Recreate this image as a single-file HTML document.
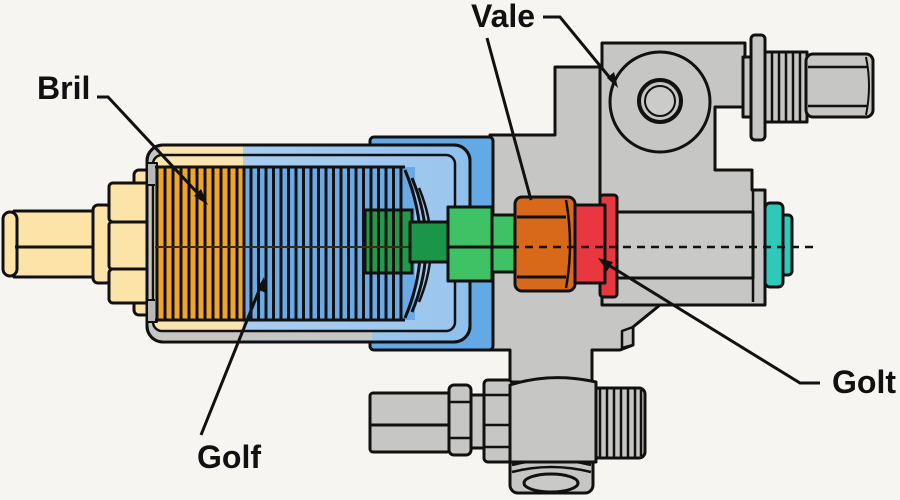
<!DOCTYPE html>
<html><head><meta charset="utf-8"><style>
html,body{margin:0;padding:0;background:#f6f5f1;}
svg{display:block;}
text{font-family:"Liberation Sans",Arial,sans-serif;font-weight:bold;fill:#111;}
</style></head><body>
<svg width="900" height="500" viewBox="0 0 900 500" xmlns="http://www.w3.org/2000/svg">
<defs>
<linearGradient id="hg" gradientUnits="userSpaceOnUse" x1="147" y1="0" x2="470" y2="0">
<stop offset="0" stop-color="#c6c6c4"/><stop offset="0.04" stop-color="#c6c6c4"/>
<stop offset="0.04" stop-color="#fbe3b2"/><stop offset="0.297" stop-color="#fbe3b2"/>
<stop offset="0.297" stop-color="#a9cdf0"/><stop offset="1" stop-color="#8fbfec"/>
</linearGradient>
<linearGradient id="ig" gradientUnits="userSpaceOnUse" x1="153" y1="0" x2="455" y2="0">
<stop offset="0" stop-color="#fbe3b2"/><stop offset="0.298" stop-color="#fbe3b2"/>
<stop offset="0.298" stop-color="#a9cdf0"/><stop offset="1" stop-color="#9cc6ee"/>
</linearGradient>
</defs>
<rect width="900" height="500" fill="#f6f5f1"/>

<g stroke="#111" stroke-width="3" stroke-linejoin="round">
<!-- gray main body -->
<path d="M490,135 L555,135 L555,67 L602,67 L602,43 L745,43 L745,107 L715,107 L715,170 L752,170 L752,190 L765,190 L765,305 L660,305 L633,327 L633,345 L620,350 L592,350 L592,382 L510,382 L510,350 L490,350 Z" fill="#c6c6c4"/>
<!-- bore -->
<rect x="617" y="212" width="136" height="66" fill="#c9c9c7"/>
<line x1="753" y1="190" x2="753" y2="302" stroke-width="2.5"/>
<line x1="600" y1="67" x2="600" y2="197" stroke-width="3"/>
<path d="M602,285 L602,305 L660,305" fill="none"/>
<path d="M622,331 L633,327 L633,345 L622,348 Z" fill="#c6c6c4" stroke-width="2.5"/>
<!-- circle -->
<circle cx="660" cy="102" r="50" fill="#c6c6c4"/>
<circle cx="660" cy="101" r="21" fill="#c6c6c4" stroke-width="4"/>
<circle cx="660" cy="101" r="15" fill="#cbcbc9" stroke-width="2"/>
<!-- top right fitting -->
<rect x="743" y="57" width="12" height="60" fill="#c6c6c4"/>
<rect x="765" y="52" width="42" height="70" fill="#c6c6c4"/>
<g stroke-width="2.5">
<line x1="772" y1="53" x2="772" y2="121"/><line x1="779" y1="53" x2="779" y2="121"/><line x1="786" y1="53" x2="786" y2="121"/><line x1="793" y1="53" x2="793" y2="121"/><line x1="800" y1="53" x2="800" y2="121"/>
</g>
<rect x="751" y="35" width="14" height="105" rx="4" fill="#c6c6c4"/>
<rect x="806" y="54" width="67" height="63" rx="7" fill="#c6c6c4"/>
<line x1="808" y1="67" x2="868" y2="67" stroke-width="2.5"/>
<line x1="808" y1="106" x2="868" y2="106" stroke-width="2.5"/>
<path d="M866,57 Q872,86 866,115" fill="none" stroke-width="2"/>
<!-- teal cap -->
<rect x="780" y="215" width="12" height="60" rx="4" fill="#2ec9b9"/>
<rect x="765" y="203" width="18" height="84" rx="5" fill="#2ec9b9"/>

<!-- lower fittings -->
<rect x="370" y="393" width="80" height="59" rx="3" fill="#c6c6c4"/>
<line x1="371" y1="425" x2="449" y2="425" stroke-width="3"/>
<rect x="470" y="395" width="16" height="53" fill="#c6c6c4"/>
<rect x="449" y="385" width="22" height="70" rx="5" fill="#c6c6c4"/>
<line x1="450" y1="402" x2="470" y2="402" stroke-width="2.5"/><line x1="450" y1="438" x2="470" y2="438" stroke-width="2.5"/>
<rect x="484" y="380" width="28" height="82" rx="4" fill="#c6c6c4"/>
<line x1="485" y1="395" x2="511" y2="395" stroke-width="2.5"/><line x1="485" y1="425" x2="511" y2="425" stroke-width="2.5"/><line x1="485" y1="447" x2="511" y2="447" stroke-width="2.5"/>
<rect x="593" y="388" width="52" height="70" rx="6" fill="#c6c6c4"/>
<g stroke-width="2.5">
<line x1="600" y1="389" x2="600" y2="457"/><line x1="607" y1="389" x2="607" y2="457"/><line x1="614" y1="389" x2="614" y2="457"/><line x1="621" y1="389" x2="621" y2="457"/><line x1="628" y1="389" x2="628" y2="457"/><line x1="635" y1="389" x2="635" y2="457"/><line x1="641" y1="390" x2="641" y2="456"/>
</g>
<rect x="510" y="455" width="83" height="38" rx="8" fill="#c6c6c4"/>
<path d="M512,465 Q551,455 591,465 M512,472 Q551,462 591,472" fill="none" stroke-width="2.5"/>
<ellipse cx="551" cy="483" rx="27" ry="9" fill="#c9c9c7"/>
<path d="M510,385 Q551,372 596,382 L596,462 L510,462 Z" fill="#c6c6c4"/>

<!-- blue block -->
<rect x="370" y="137" width="123" height="213" rx="4" fill="#62a9e6"/>
</g>

<!-- left shaft -->
<g stroke="#111" stroke-width="3" stroke-linejoin="round">
<rect x="14" y="211" width="84" height="66" fill="#fce4a8"/>
<rect x="3" y="212" width="14" height="64" rx="7" fill="#fce4a8"/>
<line x1="15" y1="247" x2="96" y2="247"/>
<rect x="93" y="205" width="18" height="78" rx="5" fill="#fce4a8"/>
<rect x="134" y="170" width="20" height="145" rx="5" fill="#fce4a8"/>
<rect x="109" y="183" width="46" height="39" rx="4" fill="#fce4a8"/>
<rect x="109" y="222" width="46" height="47" rx="3" fill="#fce4a8"/>
<rect x="109" y="269" width="46" height="34" rx="4" fill="#fce4a8"/>

<!-- housing -->
<rect x="147" y="145" width="323" height="197" rx="16" fill="url(#hg)"/>
<rect x="151" y="332" width="221" height="8" fill="#c6c6c4" stroke="none"/>
<rect x="147" y="145" width="323" height="197" rx="16" fill="none"/>
<rect x="153" y="155" width="302" height="176" rx="9" fill="url(#ig)" stroke-width="2.5"/>
<rect x="147" y="163" width="10" height="22" fill="#b8b8b6" stroke-width="2"/>
<rect x="147" y="300" width="10" height="22" fill="#b8b8b6" stroke-width="2"/>
</g>

<!-- coil -->
<rect x="155" y="167" width="88" height="153" fill="#f1a629"/>
<rect x="243" y="167" width="172" height="153" fill="#6aaae6"/>
<g stroke="#111" stroke-width="3" fill="none" stroke-linejoin="round">
<path d="M405,170 Q436,245 405,318"/>
<path d="M412,178 Q440,245 412,312"/>
<path d="M419,188 Q443,245 419,302" stroke-width="2.5"/>
</g>
<!-- plunger -->
<rect x="365" y="210" width="47" height="63" fill="#219a4b" stroke="#111" stroke-width="3"/>
<g stroke="#111" stroke-width="3">
<line x1="157" y1="168" x2="157" y2="320"/><line x1="165" y1="168" x2="165" y2="320"/><line x1="173" y1="168" x2="173" y2="320"/><line x1="181" y1="168" x2="181" y2="320"/><line x1="189" y1="168" x2="189" y2="320"/><line x1="197" y1="168" x2="197" y2="320"/><line x1="205" y1="168" x2="205" y2="320"/><line x1="213" y1="168" x2="213" y2="320"/><line x1="221" y1="168" x2="221" y2="320"/><line x1="229" y1="168" x2="229" y2="320"/><line x1="237" y1="168" x2="237" y2="320"/><line x1="244" y1="168" x2="244" y2="320"/>
<line x1="251" y1="168" x2="251" y2="320"/><line x1="258.5" y1="168" x2="258.5" y2="320"/><line x1="266" y1="168" x2="266" y2="320"/><line x1="273.5" y1="168" x2="273.5" y2="320"/><line x1="281" y1="168" x2="281" y2="320"/><line x1="288.5" y1="168" x2="288.5" y2="320"/><line x1="296" y1="168" x2="296" y2="320"/><line x1="303.5" y1="168" x2="303.5" y2="320"/><line x1="311" y1="168" x2="311" y2="320"/><line x1="318.5" y1="168" x2="318.5" y2="320"/><line x1="326" y1="168" x2="326" y2="320"/><line x1="333.5" y1="168" x2="333.5" y2="320"/><line x1="341" y1="168" x2="341" y2="320"/><line x1="348.5" y1="168" x2="348.5" y2="320"/><line x1="356" y1="168" x2="356" y2="320"/><line x1="363.5" y1="168" x2="363.5" y2="320"/><line x1="371" y1="168" x2="371" y2="320"/><line x1="378.5" y1="168" x2="378.5" y2="320"/><line x1="386" y1="168" x2="386" y2="320"/><line x1="393.5" y1="168" x2="393.5" y2="320"/><line x1="401" y1="168" x2="401" y2="320"/>
</g>
<line x1="155" y1="167" x2="405" y2="167" stroke="#111" stroke-width="3"/>
<line x1="155" y1="320" x2="405" y2="320" stroke="#111" stroke-width="3"/>
<line x1="155" y1="247" x2="495" y2="247" stroke="#3a2a10" stroke-width="2"/>

<!-- green, orange, red parts -->
<g stroke="#111" stroke-width="3" stroke-linejoin="round">
<rect x="410" y="222" width="38" height="40" fill="#1b9548"/>
<rect x="448" y="207" width="44" height="74" fill="#3fc266"/>
<rect x="492" y="215" width="24" height="57" fill="#3fc266"/>
<line x1="449" y1="247" x2="515" y2="247"/>
<rect x="600" y="195" width="17" height="102" rx="3" fill="#e8373f"/>
<rect x="572" y="205" width="33" height="78" fill="#e8373f"/>
<rect x="515" y="197" width="60" height="94" rx="7" fill="#d9691a"/>
<line x1="517" y1="217" x2="566" y2="217"/>
<line x1="517" y1="277" x2="566" y2="277"/>
<path d="M566,200 Q574,244 566,288" fill="none" stroke-width="2.5"/>
</g>
<line x1="497" y1="247" x2="815" y2="247" stroke="#111" stroke-width="2.5" stroke-dasharray="8 6"/>

<!-- leaders -->
<g stroke="#111" stroke-width="3" fill="none" stroke-linecap="butt">
<path d="M97,97 L108,97 L204,200"/>
<path d="M543,17 L560,17 L615,84"/>
<path d="M487,38 L531,200"/>
<path d="M820,383 L800,383 L602,261"/>
<path d="M201,435 L262,283"/>
</g>
<g fill="#111">
<polygon points="208,205 194,196 201,189"/>
<polygon points="618,88 607,78 614,72"/>
<polygon points="598,258 613,262 607,271"/>
<polygon points="264,277 266,293 257,289"/>
</g>

<text x="37" y="99" font-size="32">Bril</text>
<text x="471" y="27" font-size="32">Vale</text>
<text x="832" y="393" font-size="32">Golt</text>
<text x="197" y="468" font-size="32">Golf</text>
</svg>
</body></html>
